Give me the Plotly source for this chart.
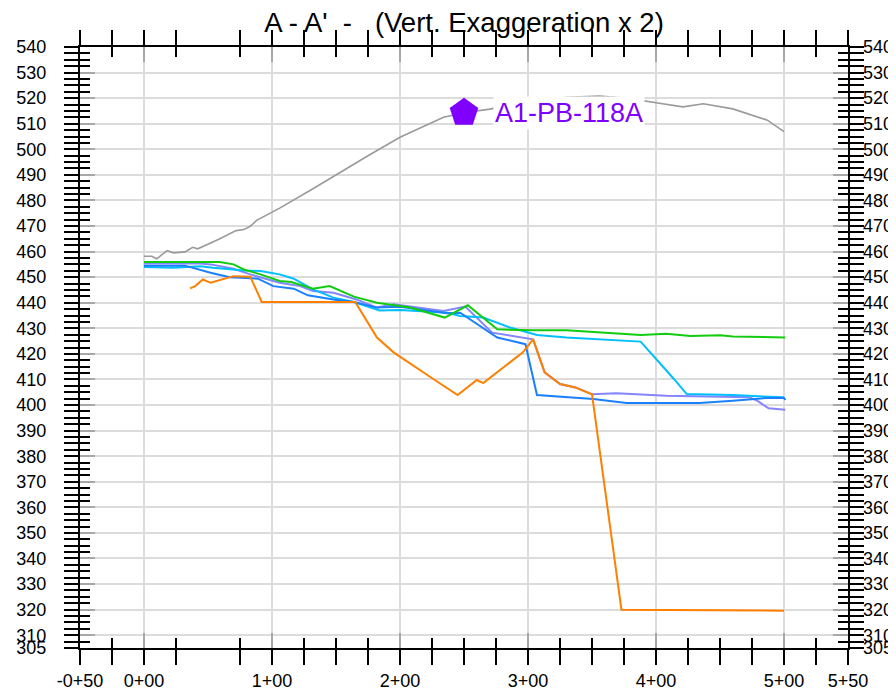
import plotly.graph_objects as go

# ---------------- data ----------------
surface_x = [0, 6, 10, 18, 23, 32, 38, 42, 58, 72, 78, 83, 88, 96, 106, 130, 153, 175, 200, 213, 234, 250, 270,
             300, 330, 356, 380, 400, 421, 437, 460, 487, 500]
surface_y = [458.2, 458.2, 457.2, 460.4, 459.5, 459.9, 461.7, 461.1, 464.7, 468.2, 468.6, 469.9, 472.2, 474.4,
             477.0, 484.0, 491.0, 497.5, 504.7, 507.8, 512.5, 514.3, 515.7, 518.5, 520.3, 520.8, 519.8, 518.2,
             516.6, 517.8, 515.8, 511.4, 506.9]

purple_x = [0, 31, 44, 52, 70, 83, 106, 122, 132, 148, 166, 182, 195, 234, 251, 272, 304, 313, 325, 337, 350,
            369, 408, 473, 479, 488, 501]
purple_y = [455.3, 455.3, 455.3, 455.0, 453.3, 451.1, 447.8, 446.5, 444.6, 443.9, 441.3, 438.1, 439.4, 436.8,
            438.5, 428.3, 425.7, 412.8, 408.2, 406.9, 404.2, 404.6, 403.6, 403.0, 401.7, 398.7, 398.2]

cyan_x = [0, 23, 44, 54, 78, 91, 106, 117, 132, 148, 164, 184, 200, 237, 247, 265, 286, 307, 330, 388, 414, 424,
          460, 500]
cyan_y = [454.0, 453.7, 454.3, 453.7, 452.6, 452.4, 451.1, 449.4, 445.2, 442.0, 440.3, 437.0, 437.2, 436.1, 434.8,
          434.2, 430.3, 427.4, 426.4, 424.8, 410.2, 404.3, 403.9, 403.0]

blue_x = [0, 32, 52, 67, 89, 101, 117, 128, 148, 164, 182, 200, 237, 247, 276, 298, 307, 351, 377, 434, 460, 487,
          500, 501]
blue_y = [454.5, 454.5, 451.7, 450.0, 449.4, 446.5, 445.5, 442.9, 441.3, 440.3, 438.1, 438.4, 435.9, 436.1, 426.4,
          423.8, 403.9, 402.4, 400.8, 400.8, 401.7, 402.8, 402.8, 402.0]

green_x = [0, 59, 70, 78, 91, 106, 115, 132, 145, 164, 182, 208, 235, 253, 276, 304, 330, 356, 388, 408, 427, 450,
           460, 501]
green_y = [455.9, 455.9, 455.0, 453.0, 451.1, 448.5, 448.1, 445.5, 446.5, 442.4, 440.0, 438.1, 434.2, 439.0, 429.6,
           429.2, 429.2, 428.3, 427.4, 427.9, 427.0, 427.3, 426.8, 426.4]

orange_x = [36, 40, 46, 52, 70, 83, 92, 165, 182, 195, 226, 245, 260, 265, 296, 304, 313, 325, 337, 350, 373, 500]
orange_y = [445.6, 446.5, 449.1, 447.8, 450.4, 450.2, 440.3, 440.3, 426.4, 420.6, 410.2, 403.9, 409.8, 408.6,
            420.6, 425.7, 412.8, 408.2, 406.9, 404.2, 320.0, 319.6]

well_x = [250]
well_y = [514.3]
well_name = ["A1-PB-118A"]

x_major = [-50, 0, 100, 200, 300, 400, 500, 550]
x_labels = ["-0+50", "0+00", "1+00", "2+00", "3+00", "4+00", "5+00", "5+50"]
x_minor = [v for v in range(-50, 551, 25) if v != 50]

y_major = [305] + list(range(310, 541, 10))
y_labels = [str(v) for v in y_major]
y_minor = [305 + 2.5 * i for i in range(0, 95)]

X_RANGE = [-50, 550]
Y_RANGE = [305, 540]

FONT = "Liberation Sans, Arial, sans-serif"
NB = "\u00a0"

# page body has an 8px default margin; size the figure so it fills the 896x692 window
FIG_W, FIG_H = 888, 684

fig = go.Figure()

fig.add_trace(go.Scatter(x=surface_x, y=surface_y, mode="lines",
                         line=dict(color="#9a9a9a", width=1.6), showlegend=False))
fig.add_trace(go.Scatter(x=purple_x, y=purple_y, mode="lines",
                         line=dict(color="#8585ff", width=2), showlegend=False))
fig.add_trace(go.Scatter(x=cyan_x, y=cyan_y, mode="lines",
                         line=dict(color="#00bfff", width=2), showlegend=False))
fig.add_trace(go.Scatter(x=blue_x, y=blue_y, mode="lines",
                         line=dict(color="#1a80ff", width=2), showlegend=False))
fig.add_trace(go.Scatter(x=green_x, y=green_y, mode="lines",
                         line=dict(color="#11cc11", width=2), showlegend=False))
fig.add_trace(go.Scatter(x=orange_x, y=orange_y, mode="lines",
                         line=dict(color="#ff8000", width=2), showlegend=False))
fig.add_trace(go.Scatter(x=well_x, y=well_y, mode="markers",
                         marker=dict(symbol="pentagon", size=30, color="#8000ff", line=dict(width=0)),
                         showlegend=False))

# dummy traces to register overlay axes
fig.add_trace(go.Scatter(x=[None], y=[None], xaxis="x2", yaxis="y", showlegend=False, hoverinfo="skip"))
fig.add_trace(go.Scatter(x=[None], y=[None], xaxis="x", yaxis="y2", showlegend=False, hoverinfo="skip"))
fig.add_trace(go.Scatter(x=[None], y=[None], xaxis="x", yaxis="y3", showlegend=False, hoverinfo="skip"))

fig.add_annotation(x=well_x[0], y=well_y[0], text=well_name[0], showarrow=False,
                   xanchor="left", yanchor="middle", xshift=29, yshift=0,
                   bgcolor="white", borderpad=1,
                   font=dict(family=FONT, size=27, color="#8000ff"))

fig.update_layout(
    width=FIG_W, height=FIG_H,
    margin=dict(l=72, r=48, t=39, b=44),
    paper_bgcolor="white", plot_bgcolor="white",
    font=dict(family=FONT, color="black"),
    title=dict(text="A - A'" + NB * 2 + "-" + NB * 3 + "(Vert. Exaggeration x 2)",
               x=0.5, xref="paper", xanchor="center",
               y=1 - 14 / FIG_H, yref="container", yanchor="middle",
               font=dict(family=FONT, size=27.5, color="black")),
    xaxis=dict(range=X_RANGE, tickmode="array", tickvals=x_major, ticktext=x_labels,
               ticks="outside", ticklen=15, tickwidth=2, tickcolor="black",
               showline=True, linewidth=2, linecolor="black", mirror="allticks",
               showgrid=True, gridcolor="#dcdcdc", gridwidth=1.5, zeroline=False,
               tickfont=dict(size=18, color="black"), ticklabelstandoff=0, automargin=False,
               minor=dict(tickmode="array", tickvals=x_minor, ticks="outside", ticklen=10,
                          tickwidth=2, tickcolor="black", showgrid=False)),
    xaxis2=dict(range=X_RANGE, overlaying="x", anchor="y", side="bottom",
                tickmode="array", tickvals=x_major, showticklabels=False,
                ticks="inside", ticklen=15, tickwidth=2, tickcolor="#a8a8a8",
                showline=True, linewidth=2, linecolor="black", mirror="allticks",
                showgrid=False, zeroline=False, automargin=False,
                minor=dict(tickmode="array", tickvals=x_minor, ticks="inside", ticklen=10,
                           tickwidth=2, tickcolor="black", showgrid=False)),
    yaxis=dict(range=Y_RANGE, tickmode="array", tickvals=y_major, ticktext=y_labels,
               ticks="outside", ticklen=14, tickwidth=2, tickcolor="black",
               showline=True, linewidth=2, linecolor="black", mirror="allticks",
               showgrid=True, gridcolor="#dcdcdc", gridwidth=1.5, zeroline=False,
               tickfont=dict(size=18, color="black"), ticklabelstandoff=14, automargin=False,
               minor=dict(tickmode="array", tickvals=y_minor, ticks="outside", ticklen=10,
                          tickwidth=2, tickcolor="black", showgrid=False)),
    yaxis2=dict(range=Y_RANGE, overlaying="y", anchor="x", side="left",
                tickmode="array", tickvals=y_major, showticklabels=False,
                ticks="inside", ticklen=15, tickwidth=2, tickcolor="#a8a8a8",
                showline=True, linewidth=2, linecolor="black", mirror="allticks",
                showgrid=False, zeroline=False, automargin=False,
                minor=dict(tickmode="array", tickvals=y_minor, ticks="inside", ticklen=10,
                           tickwidth=2, tickcolor="black", showgrid=False)),
    yaxis3=dict(range=Y_RANGE, overlaying="y", anchor="x", side="right",
                tickmode="array", tickvals=y_major, ticktext=y_labels,
                ticks="", showline=False, showgrid=False, zeroline=False, automargin=False,
                tickfont=dict(size=18, color="black"), ticklabelstandoff=14),
)

fig.write_html("out.html")
